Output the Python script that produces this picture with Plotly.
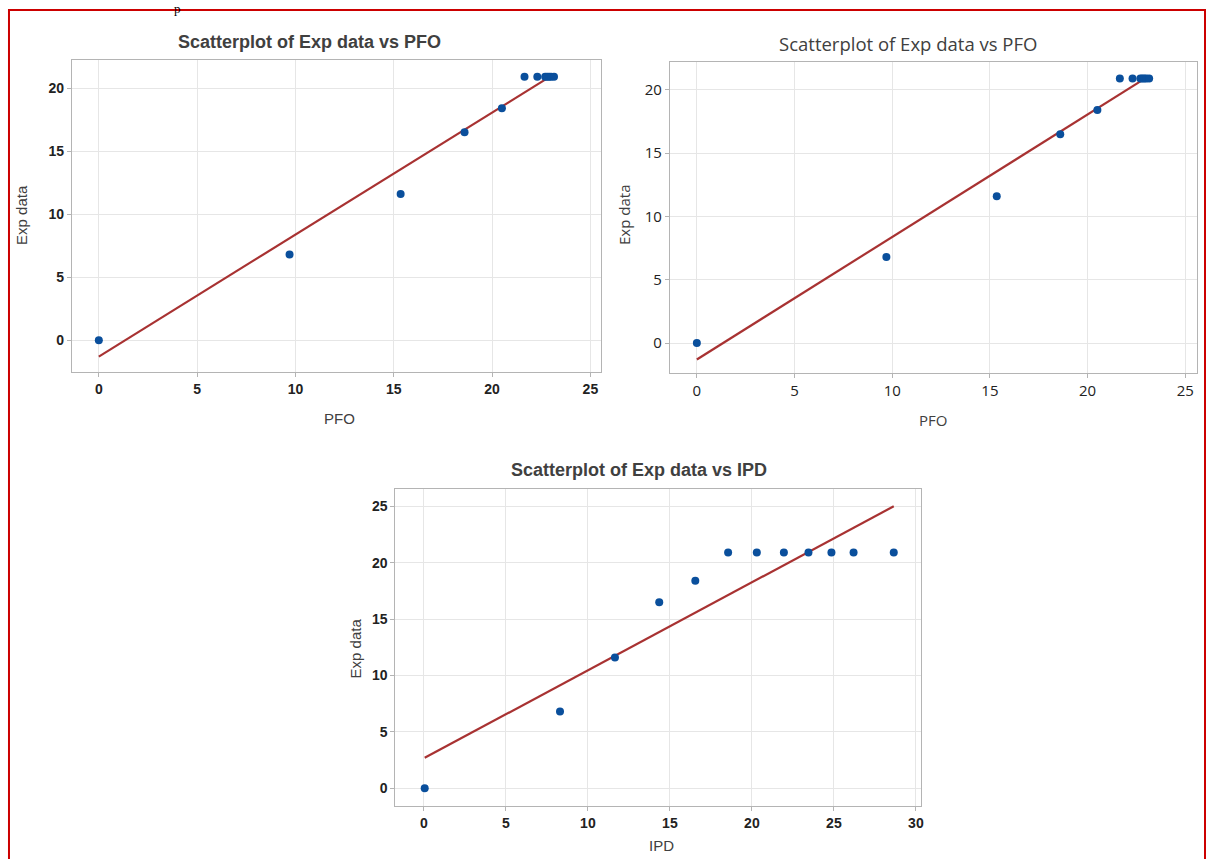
import plotly.graph_objects as go

W, H = 1208, 859

# ---- data ----
exp_data = [0, 6.8, 11.6, 16.5, 18.4, 20.9, 20.9, 20.9, 20.9, 20.9, 20.9, 20.9]
pfo = [0, 9.7, 15.35, 18.6, 20.5, 21.65, 22.3, 22.7, 22.8, 22.9, 23.0, 23.15]
ipd = [0.05, 8.3, 11.65, 14.35, 16.55, 18.55, 20.3, 21.95, 23.45, 24.85, 26.2, 28.65]

pfo_fit_x = [0, 23.15]
pfo_fit_y = [-1.3, 21.1]
ipd_fit_x = [0.05, 28.65]
ipd_fit_y = [2.7, 25.0]

pfo_ticks = [0, 5, 10, 15, 20, 25]
ipd_ticks = [0, 5, 10, 15, 20, 25, 30]
exp_ticks_top = [0, 5, 10, 15, 20]
exp_ticks_bottom = [0, 5, 10, 15, 20, 25]

titles = ["Scatterplot of Exp data vs PFO", "Scatterplot of Exp data vs PFO",
          "Scatterplot of Exp data vs IPD"]

MARKER = "#0a4f9c"
LINE = "#a83232"
GRID = "#e6e6e6"
AXLINE = "#b4b4b4"

fig = go.Figure()

def px_x(p):
    return p / W

def px_y(p):
    return 1 - p / H

panels = [
    dict(xa="x", ya="y", xs=pfo, fx=pfo_fit_x, fy=pfo_fit_y,
         dom_x=(72, 602), dom_y=(60, 372), xr=[-1.37, 25.54], yr=[-2.52, 22.22],
         xt=pfo_ticks, yt=exp_ticks_top, font="Liberation Sans", bold=True, tsize=14),
    dict(xa="x2", ya="y2", xs=pfo, fx=pfo_fit_x, fy=pfo_fit_y,
         dom_x=(671, 1199), dom_y=(62, 373), xr=[-1.38, 25.6], yr=[-2.37, 22.2],
         xt=pfo_ticks, yt=exp_ticks_top, font="Open Sans", bold=False, tsize=15),
    dict(xa="x3", ya="y3", xs=ipd, fx=ipd_fit_x, fy=ipd_fit_y,
         dom_x=(396, 923), dom_y=(489, 806), xr=[-1.74, 30.34], yr=[-1.57, 26.53],
         xt=ipd_ticks, yt=exp_ticks_bottom, font="Liberation Sans", bold=True, tsize=14),
]

layout_axes = {}
for i, p in enumerate(panels):
    fig.add_trace(go.Scatter(x=p["fx"], y=p["fy"], mode="lines",
                             line=dict(color=LINE, width=2.2),
                             xaxis=p["xa"], yaxis=p["ya"], showlegend=False))
    fig.add_trace(go.Scatter(x=p["xs"], y=exp_data, mode="markers",
                             marker=dict(color=MARKER, size=8),
                             xaxis=p["xa"], yaxis=p["ya"], showlegend=False))
    n = "" if i == 0 else str(i + 1)
    tf = dict(family=p["font"], size=p["tsize"], color="#222222",
              weight="bold" if p["bold"] else "normal")
    common = dict(showgrid=True, gridcolor=GRID, gridwidth=1, zeroline=False,
                  showline=True, linecolor=AXLINE, linewidth=1, mirror=True,
                  ticks="outside", ticklen=4, tickcolor=AXLINE, tickfont=tf)
    layout_axes["xaxis" + n] = dict(common, domain=[px_x(p["dom_x"][0]), px_x(p["dom_x"][1])],
                                    range=p["xr"], tickvals=p["xt"],
                                    anchor="y" + n)
    layout_axes["yaxis" + n] = dict(common, domain=[px_y(p["dom_y"][1]), px_y(p["dom_y"][0])],
                                    range=p["yr"], tickvals=p["yt"],
                                    anchor="x" + n)

fig.update_layout(**layout_axes)

ann = []
def add_text(text, x, y, family, size, bold=False, angle=0, color="#404040"):
    ann.append(dict(text=text, x=px_x(x), y=px_y(y), xref="paper", yref="paper",
                    showarrow=False, xanchor="center", yanchor="middle",
                    textangle=angle,
                    font=dict(family=family, size=size, color=color,
                              weight="bold" if bold else "normal")))

add_text(titles[0], 310, 42, "Liberation Sans", 18, bold=True)
add_text(titles[1], 910, 44, "Open Sans", 18.5)
add_text(titles[2], 640, 470, "Liberation Sans", 18, bold=True)

add_text("Exp data", 22, 215, "Liberation Sans", 15, angle=-90)
add_text("PFO", 340, 418, "Liberation Sans", 15)
add_text("Exp data", 625, 215, "Open Sans", 15, angle=-90)
add_text("PFO", 935, 420, "Open Sans", 15)
add_text("Exp data", 356, 648, "Liberation Sans", 15, angle=-90)
add_text("IPD", 663, 845, "Liberation Sans", 15)

# small glyph at the very top of the page (remnant of surrounding text)
ann.append(dict(text="p", x=px_x(178), y=1, xref="paper", yref="paper",
                showarrow=False, xanchor="center", yanchor="top", borderpad=0,
                font=dict(family="Liberation Serif", size=13, color="#000000")))

fig.update_layout(
    annotations=ann,
    width=W, height=H,
    margin=dict(l=0, r=0, t=0, b=0),
    paper_bgcolor="white", plot_bgcolor="white",
    shapes=[dict(type="rect", xref="paper", yref="paper",
                 x0=px_x(9), x1=px_x(1207), y0=px_y(870), y1=px_y(10),
                 line=dict(color="#cc0000", width=2))],
)

fig.write_html("out.html")
